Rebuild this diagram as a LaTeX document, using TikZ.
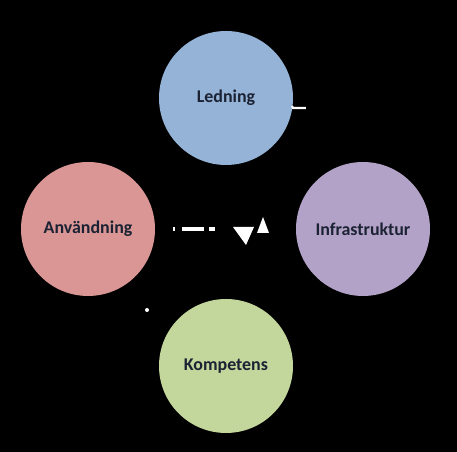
\documentclass[tikz,border=0pt]{standalone}
\usepackage{fontspec}
\setmainfont{Carlito}
\definecolor{ledblue}{HTML}{95B3D7}
\definecolor{anvpink}{HTML}{D99694}
\definecolor{infpurple}{HTML}{B3A2C7}
\definecolor{kompgreen}{HTML}{C3D69B}
\definecolor{labelink}{HTML}{1B2233}
\begin{document}
\begin{tikzpicture}[every node/.style={font=\bfseries\fontsize{10.2}{12}\selectfont, text=labelink},
  area/.style={circle,minimum size=2.68cm,inner sep=0pt}]
\fill[black] (0,0) rectangle (9.14,9.04);
\useasboundingbox (0,0) rectangle (9.14,9.04);
\node[area,fill=ledblue] (led) at (4.52,7.08) {Ledning};
\node[area,fill=anvpink] (anv) at (1.76,4.46) {Användning};
\node[area,fill=infpurple] (inf) at (7.26,4.46) {Infrastruktur};
\node[area,fill=kompgreen] (komp) at (4.52,1.72) {Kompetens};
% connectors, black on black
\draw[->,thick,black] (anv) -- (led);
\draw[->,thick,black] (led) -- (inf);
\draw[->,thick,black] (inf) -- (komp);
\draw[->,thick,black] (komp) -- (anv);
% visible white marks
\coordinate (dstart) at (3.46,4.46);
\coordinate (mid) at (4.40,4.46);
\draw[white,line width=2pt,dash pattern=on 0.9pt off 4pt on 13pt off 2.8pt on 3.4pt off 20pt] (dstart) -- (mid);
\fill[white] (4.66,4.50) -- (5.08,4.50) -- (4.92,4.14) -- cycle;
\fill[white] (5.26,4.70) -- (5.38,4.38) -- (5.14,4.38) -- cycle;
\draw[white,line width=1.2pt] (5.84,6.92) -- (5.86,6.88) -- (6.12,6.88);
\fill[white] (2.94,2.84) circle (0.04);
\end{tikzpicture}
\end{document}
